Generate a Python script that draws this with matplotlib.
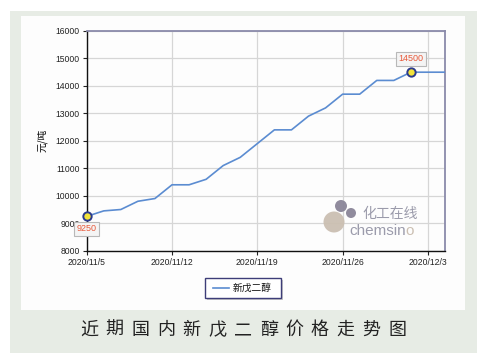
import numpy as np
import matplotlib
matplotlib.use('Agg')
import matplotlib.pyplot as plt
from matplotlib.patches import Rectangle, Circle
from matplotlib.transforms import IdentityTransform

# working-day price series (元/吨)
dates = ['2020/11/5', '2020/11/6', '2020/11/9', '2020/11/10', '2020/11/11',
         '2020/11/12', '2020/11/13', '2020/11/16', '2020/11/17', '2020/11/18',
         '2020/11/19', '2020/11/20', '2020/11/23', '2020/11/24', '2020/11/25',
         '2020/11/26', '2020/11/27', '2020/11/30', '2020/12/1', '2020/12/2',
         '2020/12/3', '2020/12/4']
prices = [9250, 9450, 9500, 9800, 9900,
          10400, 10400, 10600, 11100, 11400,
          11900, 12400, 12400, 12900, 13200,
          13700, 13700, 14200, 14200, 14500,
          14500, 14500]
series_name = '新戊二醇'
ylabel = '元/吨'
title = '近期国内新戊二醇价格走势图'
yticks = list(range(8000, 16001, 1000))
label_every = 5

W, H = 478, 359
plt.rcParams['font.family'] = ['Liberation Sans', 'Noto Sans CJK SC', 'DejaVu Sans']
fig = plt.figure(figsize=(W / 100, H / 100), dpi=100)
fig.patch.set_facecolor('white')

def px(x0, y0, x1, y1):
    # pixel box (top-left origin) -> figure fraction rect
    return (x0 / W, 1 - y1 / H, (x1 - x0) / W, (y1 - y0) / H)

# outer greenish frame and white panel
r = px(10, 11, 477, 353)
fig.patches.append(Rectangle(r[:2], r[2], r[3], transform=fig.transFigure,
                             facecolor='#e7ece5', edgecolor='none', zorder=-3))
r = px(21, 16, 465, 310)
fig.patches.append(Rectangle(r[:2], r[2], r[3], transform=fig.transFigure,
                             facecolor='#fdfdfd', edgecolor='none', zorder=-2))

ax = fig.add_axes(px(86.7, 31, 445, 250.7))
ax.set_facecolor('#fdfdfd')
x = np.arange(len(prices))
ax.plot(x, prices, color='#5b8cd1', lw=1.2, zorder=3, solid_joinstyle='round')

ax.set_xlim(0, len(prices) - 1)
ax.set_ylim(yticks[0], yticks[-1])
ax.set_yticks(yticks)
ax.set_xticks(x[::label_every])
ax.set_xticklabels(dates[::label_every])
ax.grid(True, color='#d6d6d6', lw=0.9, zorder=0)
ax.set_axisbelow(True)
ax.tick_params(axis='both', labelsize=6.2, colors='#222222', length=3, width=0.8,
               direction='out', pad=2)
ax.spines['left'].set_color('#111111')
ax.spines['bottom'].set_color('#111111')
ax.spines['left'].set_linewidth(1.0)
ax.spines['bottom'].set_linewidth(1.0)
for s in ['top', 'right']:
    ax.spines[s].set_color('#8a8aaa')
    ax.spines[s].set_linewidth(1.3)

ax.set_ylabel(ylabel, fontsize=7, family=['Noto Sans CJK SC'], labelpad=6)

# min / max markers with value boxes
imin = int(np.argmin(prices))
imax = int(np.argmax(prices))
for i in (imin, imax):
    ax.plot(x[i], prices[i], 'o', ms=6, mfc='#f2e23a', mec='#2b3a8c', mew=1.4,
            zorder=5, clip_on=False)
box = dict(boxstyle='square,pad=0.25', fc='#f4f4f4', ec='#b8b8b8', lw=0.8)
ax.annotate(str(prices[imin]), (x[imin], prices[imin]), xytext=(0, -9),
            textcoords='offset points', fontsize=6.5, color='#e8593a',
            ha='center', va='center', bbox=box, zorder=6, annotation_clip=False)
ax.annotate(str(prices[imax]), (x[imax], prices[imax]), xytext=(0, 9.5),
            textcoords='offset points', fontsize=6.5, color='#e8593a',
            ha='center', va='center', bbox=box, zorder=6)

# watermark logo (pixel coordinates, top-left origin)
for (cx, cy, rr, col) in [(334, 222, 10.5, '#cbbfb2'), (341, 206, 6, '#8a8598'),
                          (351, 213, 5, '#8a8598')]:
    fig.patches.append(Circle((cx, H - cy), rr, transform=IdentityTransform(),
                              facecolor=col, edgecolor='none', zorder=4, alpha=0.95))
fig.text(362 / W, 1 - 214 / H, '化工在线', fontsize=10, color='#9b9bab',
         family=['Noto Sans CJK SC'], va='center', ha='left', zorder=5)
t = fig.text(349 / W, 1 - 231 / H, 'chemsin', fontsize=11, color='#9b9bab',
             va='center', ha='left', zorder=5)
fig.canvas.draw()
ext = t.get_window_extent()
fig.text(ext.x1 / W, 1 - 231 / H, 'o', fontsize=11, color='#cbbfb2',
         va='center', ha='left', zorder=5)

# legend box
r = px(205, 278, 281, 298)
fig.patches.append(Rectangle((r[0] + 2 / W, r[1] - 2 / H), r[2], r[3],
                             transform=fig.transFigure, facecolor='#c8c8c8',
                             edgecolor='none', zorder=2))
fig.patches.append(Rectangle(r[:2], r[2], r[3], transform=fig.transFigure,
                             facecolor='white', edgecolor='#3d3d78', lw=1.0, zorder=3))
fig.lines.append(plt.Line2D([213 / W, 229 / W], [1 - 288 / H, 1 - 288 / H],
                            transform=fig.transFigure, color='#5b8cd1', lw=1.2, zorder=4))
fig.text(233 / W, 1 - 288 / H, series_name, fontsize=7, color='#111111',
         family=['Noto Sans CJK SC'], va='center', ha='left', zorder=4)

# spaced caption
n = len(title)
x0, x1 = 89, 397
for k, ch in enumerate(title):
    fig.text((x0 + (x1 - x0) * k / (n - 1)) / W, 1 - 330 / H, ch, fontsize=13,
             color='#222222', family=['Noto Sans CJK SC'], ha='center', va='center')

fig.savefig('out.png', dpi=100, facecolor=fig.get_facecolor())
